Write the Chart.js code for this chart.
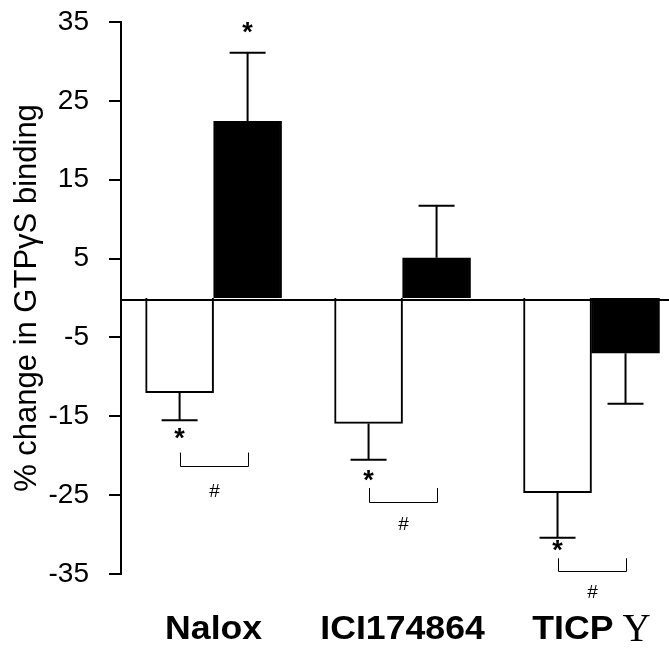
<!DOCTYPE html>
<html>
<head>
<meta charset="utf-8">
<script src="https://cdn.jsdelivr.net/npm/chart.js@4"></script>
<style>
  body { margin: 0; background: #fff; }
  canvas { display: block; }
</style>
</head>
<body>
<canvas id="gtpChart" width="669" height="649"></canvas>
<script>
// --- data ---
const categories = ['Nalox', 'ICI174864', 'TICP'];
const catSuffix = ['', '', 'Y'];          // serif glyph after the bold label
const whiteValues = [-12.0, -15.9, -24.7];
const blackValues = [22.4, 5.1, -7.0];
const whiteErr = [3.5, 4.6, 5.7];
const blackErr = [8.7, 6.6, 6.4];
const yTicks = [-35, -25, -15, -5, 5, 15, 25, 35];

// significance marks (value on y axis)
const starWhite = [-17.5, -22.8, -31.7];
const starBlack = [34.0, null, null];
const bracketTop = [-19.6, -24.1, -33.0];
const bracketBottom = [-21.3, -25.9, -34.6];
const hashY = [-24.6, -28.8, -37.4];

const FONT = 'Arial, "Liberation Sans", sans-serif';

// error bars, away from zero
const errorBars = {
    id: 'errorBars',
    afterDatasetsDraw(chart) {
        const ctx = chart.ctx;
        const y = chart.scales.y;
        const errs = [whiteErr, blackErr];
        const vals = [whiteValues, blackValues];
        ctx.save();
        ctx.strokeStyle = '#000';
        ctx.lineWidth = 2;
        chart.data.datasets.forEach((ds, di) => {
            chart.getDatasetMeta(di).data.forEach((bar, i) => {
                const v = vals[di][i];
                const end = v + Math.sign(v) * errs[di][i];
                const yEnd = y.getPixelForValue(end);
                ctx.beginPath();
                ctx.moveTo(bar.x, bar.y);
                ctx.lineTo(bar.x, yEnd);
                ctx.moveTo(bar.x - 18, yEnd);
                ctx.lineTo(bar.x + 18, yEnd);
                ctx.stroke();
            });
        });
        ctx.restore();
    }
};

// zero line, stars, brackets and category labels
const extras = {
    id: 'extras',
    afterDatasetsDraw(chart) {
        const ctx = chart.ctx;
        const y = chart.scales.y;
        const x = chart.scales.x;
        const area = chart.chartArea;
        const wMeta = chart.getDatasetMeta(0).data;
        const bMeta = chart.getDatasetMeta(1).data;

        ctx.save();
        // baseline
        ctx.strokeStyle = '#000';
        ctx.lineWidth = 2;
        ctx.beginPath();
        ctx.moveTo(area.left, y.getPixelForValue(0) + 2);
        ctx.lineTo(chart.width, y.getPixelForValue(0) + 2);
        ctx.stroke();

        // stars
        ctx.fillStyle = '#000';
        ctx.font = 'bold 27px ' + FONT;
        ctx.textAlign = 'center';
        ctx.textBaseline = 'alphabetic';
        categories.forEach((c, i) => {
            if (starWhite[i] !== null) ctx.fillText('*', wMeta[i].x, y.getPixelForValue(starWhite[i]) + 11);
            if (starBlack[i] !== null) ctx.fillText('*', bMeta[i].x, y.getPixelForValue(starBlack[i]) + 11);
        });

        // brackets with #
        ctx.lineWidth = 1;
        ctx.font = '19px ' + FONT;
        ctx.textBaseline = 'middle';
        categories.forEach((c, i) => {
            const x0 = Math.round(wMeta[i].x) + 0.5;
            const x1 = Math.round(bMeta[i].x) + 0.5;
            const t = y.getPixelForValue(bracketTop[i]);
            const b = Math.round(y.getPixelForValue(bracketBottom[i])) + 0.5;
            ctx.beginPath();
            ctx.moveTo(x0, t);
            ctx.lineTo(x0, b);
            ctx.lineTo(x1, b);
            ctx.lineTo(x1, t);
            ctx.stroke();
            ctx.fillText('#', (x0 + x1) / 2, y.getPixelForValue(hashY[i]));
        });

        // category labels
        const labelY = area.bottom + 56;
        categories.forEach((c, i) => {
            const cx = x.getPixelForValue(i);
            ctx.font = 'bold 33px ' + FONT;
            const w1 = ctx.measureText(c).width * 1.08;
            let w2 = 0, gap = 0;
            if (catSuffix[i]) {
                ctx.font = '39px "Liberation Serif", "Times New Roman", serif';
                w2 = ctx.measureText(catSuffix[i]).width;
                gap = 9;
            }
            const start = cx - (w1 + gap + w2) / 2;
            ctx.save();
            ctx.translate(start, labelY);
            ctx.scale(1.08, 1);
            ctx.font = 'bold 33px ' + FONT;
            ctx.textAlign = 'left';
            ctx.textBaseline = 'middle';
            ctx.fillText(c, 0, 0);
            ctx.restore();
            if (catSuffix[i]) {
                ctx.font = '39px "Liberation Serif", "Times New Roman", serif';
                ctx.textAlign = 'left';
                ctx.textBaseline = 'middle';
                ctx.fillText(catSuffix[i], start + w1 + gap, labelY + 1);
            }
        });
        ctx.restore();
    }
};

new Chart(document.getElementById('gtpChart'), {
    type: 'bar',
    data: {
        datasets: [
            { data: whiteValues.map((v, i) => ({ x: i, y: v })), backgroundColor: '#fff', borderColor: '#000', borderWidth: 2 },
            { data: blackValues.map((v, i) => ({ x: i, y: v })), backgroundColor: '#000', borderColor: '#000', borderWidth: 2 }
        ]
    },
    options: {
        responsive: false,
        animation: false,
        layout: { padding: { top: 22, bottom: 75, left: 0, right: 0 } },
        datasets: { bar: { barThickness: 68 } },
        plugins: { legend: { display: false }, tooltip: { enabled: false } },
        scales: {
            x: {
                type: 'linear',
                display: false,
                offset: false,
                grid: { offset: false },
                min: -0.49,
                max: 2.41,
                afterBuildTicks(scale) { scale.ticks = categories.map((c, i) => ({ value: i })); }
            },
            y: {
                min: -35,
                max: 35,
                afterBuildTicks(scale) { scale.ticks = yTicks.map(v => ({ value: v })); },
                afterFit(scale) {
                    scale.width = 121;
                    scale.paddingTop = 0;
                    scale.paddingBottom = 0;
                },
                border: { display: true, color: '#000', width: 2 },
                grid: { drawOnChartArea: false, drawTicks: true, tickLength: 12, color: '#000', lineWidth: 2 },
                ticks: { color: '#000', font: { family: FONT, size: 28 }, padding: 20 },
                title: {
                    display: true,
                    text: '% change in GTPγS binding',
                    color: '#000',
                    font: { family: FONT, size: 31 },
                    padding: { top: 9, bottom: 0 }
                }
            }
        }
    },
    plugins: [errorBars, extras]
});
</script>
</body>
</html>
